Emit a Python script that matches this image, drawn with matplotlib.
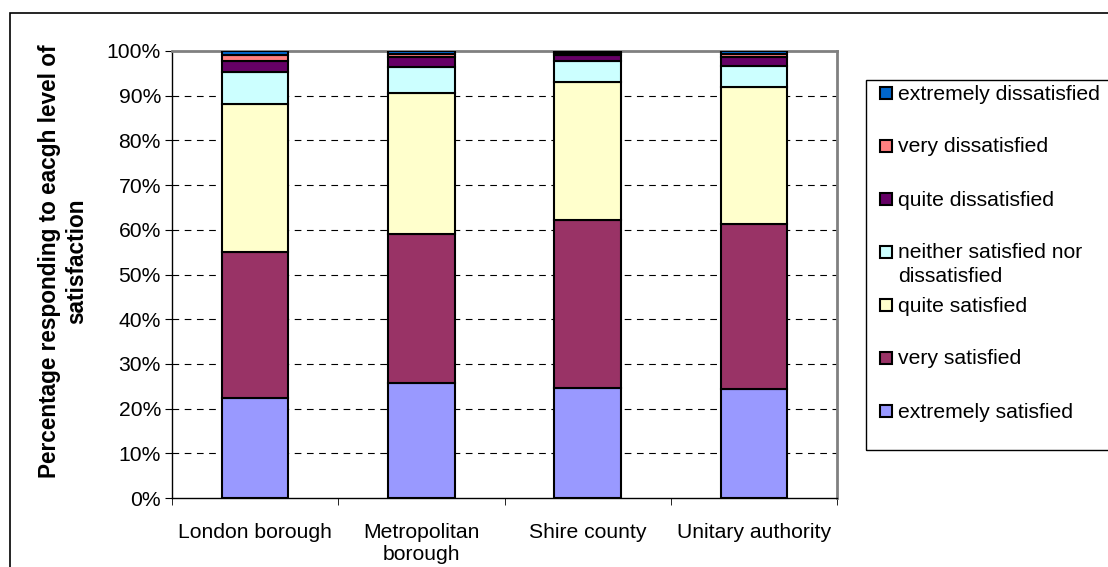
import matplotlib.pyplot as plt
from matplotlib.patches import Rectangle
import numpy as np

plt.rcParams['font.family'] = ['Liberation Sans', 'DejaVu Sans']

categories = ['London borough', 'Metropolitan\nborough', 'Shire county', 'Unitary authority']
levels = ['extremely satisfied', 'very satisfied', 'quite satisfied',
          'neither satisfied nor\ndissatisfied', 'quite dissatisfied',
          'very dissatisfied', 'extremely dissatisfied']
colors = ['#9999FF', '#993366', '#FFFFCC', '#CCFFFF', '#660066', '#FF8080', '#0066CC']

# percentages per level, one value per category
extremely_satisfied = [22.3, 25.8, 24.5, 24.4]
very_satisfied = [32.7, 33.2, 37.7, 36.9]
quite_satisfied = [33.2, 31.6, 30.8, 30.6]
neither = [7.0, 5.8, 4.8, 4.8]
quite_dissatisfied = [2.6, 2.2, 1.2, 2.0]
very_dissatisfied = [1.4, 0.7, 0.5, 0.7]
extremely_dissatisfied = [0.8, 0.7, 0.5, 0.6]

series = [extremely_satisfied, very_satisfied, quite_satisfied, neither,
          quite_dissatisfied, very_dissatisfied, extremely_dissatisfied]

fs = 15.2
W, H = 1108, 567

fig = plt.figure(figsize=(W / 100, H / 100), dpi=100)
ax = fig.add_axes([172 / W, 1 - 498 / H, (837 - 172) / W, (498 - 51) / H])

x = np.arange(len(categories))
bottom = np.zeros(len(categories))
for vals, col, lab in zip(series, colors, levels):
    ax.bar(x, vals, 0.4, bottom=bottom, color=col, edgecolor='black',
           linewidth=1.5, label=lab, zorder=3)
    bottom += np.array(vals)

ax.set_ylim(0, 100)
ax.set_xlim(-0.5, 3.5)
ax.set_yticks(np.arange(0, 101, 10))
ax.set_yticklabels([f'{v}%' for v in range(0, 101, 10)], fontsize=fs)
ax.set_xticks(x)
ax.set_xticklabels(categories, fontsize=fs)
ax.set_xticks(np.arange(-0.5, 3.6, 1), minor=True)
ax.tick_params(axis='x', which='major', length=0, pad=18)
ax.tick_params(axis='x', which='minor', length=5, direction='out')
ax.tick_params(axis='y', length=5, direction='out', pad=3)
for v in range(10, 100, 10):
    ax.axhline(v, color='black', linestyle=(0, (6, 5)), linewidth=0.8, zorder=1)
ax.spines['top'].set_color('#808080')
ax.spines['right'].set_color('#808080')
ax.spines['top'].set_linewidth(2)
ax.spines['right'].set_linewidth(2)
ax.spines['left'].set_linewidth(1)
ax.spines['bottom'].set_linewidth(1)

ax.set_ylabel('Percentage responding to eacgh level of\nsatisfaction',
              fontsize=16.3, fontweight='bold', linespacing=1.25)
ax.yaxis.set_label_coords(-0.126, 0.53)

# legend box, entries evenly spaced like the spreadsheet legend
fig.patches.append(Rectangle((866 / W, 1 - 450 / H), 0.3, (450 - 80) / H,
                             transform=fig.transFigure, fill=False,
                             edgecolor='black', linewidth=1))
for i, (lab, col) in enumerate(zip(levels[::-1], colors[::-1])):
    yc = 93 + i * 53
    fig.patches.append(Rectangle((880 / W, 1 - (yc + 6) / H), 12 / W, 12 / H,
                                 transform=fig.transFigure, facecolor=col,
                                 edgecolor='black', linewidth=1.5))
    for j, line in enumerate(lab.split('\n')):
        fig.text(898 / W, 1 - (yc + 1 + j * 24) / H, line, fontsize=fs,
                 va='center', ha='left')

# outer chart border
fig.patches.append(Rectangle((10 / W, -0.1), 1.2, 1 - 13 / H + 0.1,
                             transform=fig.transFigure, fill=False,
                             edgecolor='black', linewidth=1.2))

fig.savefig('out.png', dpi=100)
